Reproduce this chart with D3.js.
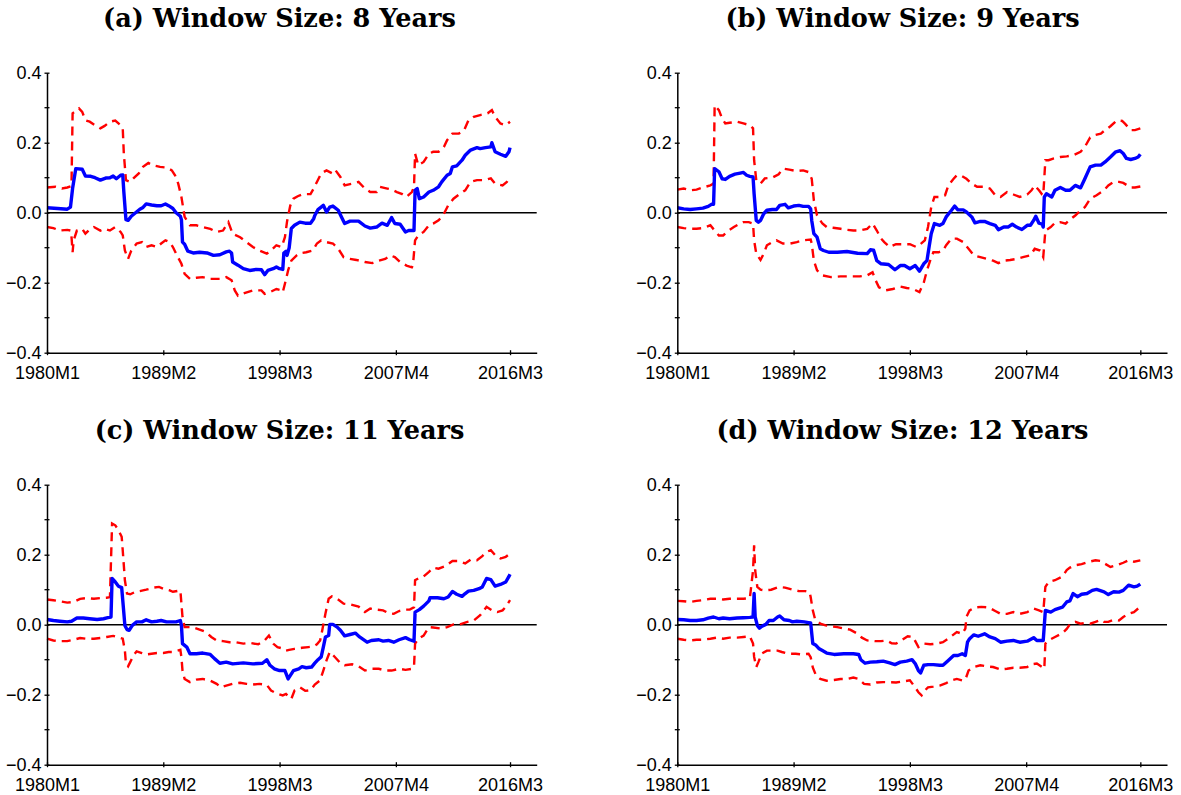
<!DOCTYPE html>
<html>
<head>
<meta charset="utf-8">
<script src="https://cdn.jsdelivr.net/npm/d3@7"></script>
<style>
  html, body { margin: 0; padding: 0; background: #ffffff; }
  svg { display: block; }
</style>
</head>
<body>
<svg id="chart" width="1181" height="795"></svg>
<script>
// ---------- data (x = months since 1980M1, y = estimate) ----------
const tickMonths = [0, 109, 218, 327, 434];
const tickLabels = ["1980M1", "1989M2", "1998M3", "2007M4", "2016M3"];
const yMajorTicks = [-0.4, -0.2, 0.0, 0.2, 0.4];
const yMinorTicks = [-0.3, -0.1, 0.1, 0.3];
const panelTitles = ["(a) Window Size: 8 Years", "(b) Window Size: 9 Years",
                     "(c) Window Size: 11 Years", "(d) Window Size: 12 Years"];

const estA = [[0,0.014],[10,0.012],[19,0.010],[22,0.016],[24,0.070],[27,0.126],[33,0.124],[36,0.105],[41,0.104],[45,0.100],[50,0.093],[55,0.099],[59,0.100],[62,0.105],[65,0.097],[69,0.107],[71,0.108],[72,0.060],[74,-0.020],[76,-0.022],[79,-0.010],[83,0.000],[87,0.010],[90,0.015],[93,0.025],[98,0.022],[103,0.020],[107,0.020],[111,0.025],[114,0.020],[118,0.012],[121,0.000],[125,-0.010],[126,-0.020],[127,-0.084],[129,-0.090],[132,-0.110],[137,-0.115],[143,-0.113],[150,-0.115],[156,-0.122],[162,-0.120],[168,-0.112],[171,-0.110],[173,-0.115],[174,-0.141],[179,-0.150],[184,-0.160],[190,-0.165],[196,-0.162],[201,-0.163],[204,-0.177],[207,-0.165],[212,-0.160],[215,-0.155],[218,-0.160],[221,-0.162],[222,-0.115],[224,-0.110],[225,-0.122],[227,-0.100],[229,-0.045],[232,-0.036],[237,-0.027],[242,-0.030],[247,-0.030],[250,-0.017],[251,-0.008],[254,0.009],[259,0.021],[262,0.002],[265,0.016],[268,0.019],[273,0.007],[276,-0.012],[279,-0.031],[284,-0.024],[292,-0.024],[298,-0.038],[303,-0.044],[309,-0.041],[314,-0.030],[319,-0.036],[323,-0.014],[326,-0.031],[331,-0.033],[336,-0.055],[339,-0.051],[344,-0.051],[345,0.064],[347,0.069],[349,0.040],[353,0.045],[358,0.059],[362,0.064],[367,0.074],[370,0.088],[375,0.107],[378,0.112],[380,0.131],[384,0.134],[389,0.150],[392,0.164],[397,0.179],[403,0.186],[406,0.183],[411,0.186],[416,0.188],[417,0.200],[420,0.174],[425,0.167],[430,0.161],[433,0.174],[434,0.186]];
const upperA = [[0,0.072],[8,0.074],[14,0.069],[19,0.072],[22,0.075],[23,0.088],[24,0.284],[26,0.288],[30,0.298],[33,0.288],[36,0.264],[40,0.260],[45,0.250],[50,0.241],[54,0.248],[59,0.260],[64,0.263],[69,0.250],[71,0.241],[72,0.169],[74,0.093],[78,0.088],[81,0.098],[86,0.112],[90,0.131],[95,0.142],[100,0.135],[106,0.131],[112,0.129],[117,0.121],[120,0.107],[123,0.083],[126,0.045],[129,-0.012],[134,-0.036],[140,-0.036],[146,-0.041],[153,-0.046],[159,-0.055],[165,-0.051],[170,-0.027],[174,-0.060],[181,-0.070],[187,-0.084],[193,-0.098],[199,-0.108],[206,-0.117],[210,-0.108],[215,-0.093],[220,-0.098],[223,-0.070],[225,-0.025],[228,0.020],[231,0.040],[235,0.047],[240,0.053],[247,0.053],[250,0.069],[253,0.088],[257,0.112],[262,0.121],[267,0.113],[270,0.123],[275,0.102],[279,0.078],[286,0.083],[292,0.088],[298,0.069],[303,0.059],[309,0.059],[312,0.074],[319,0.069],[323,0.066],[328,0.059],[333,0.053],[337,0.045],[342,0.059],[344,0.074],[345,0.169],[348,0.136],[353,0.145],[358,0.169],[362,0.174],[367,0.174],[372,0.188],[375,0.207],[380,0.226],[386,0.226],[391,0.236],[395,0.264],[400,0.274],[406,0.279],[413,0.284],[417,0.293],[420,0.274],[425,0.255],[430,0.250],[434,0.260]];
const lowerA = [[0,-0.041],[6,-0.044],[12,-0.051],[19,-0.049],[22,-0.051],[23,-0.070],[24,-0.113],[25,-0.079],[28,-0.051],[33,-0.046],[36,-0.060],[39,-0.051],[44,-0.041],[50,-0.051],[54,-0.046],[59,-0.051],[64,-0.041],[69,-0.055],[71,-0.065],[73,-0.108],[76,-0.132],[79,-0.108],[84,-0.088],[89,-0.084],[93,-0.098],[98,-0.093],[103,-0.098],[107,-0.088],[111,-0.079],[115,-0.084],[118,-0.098],[121,-0.117],[126,-0.146],[129,-0.175],[134,-0.189],[140,-0.186],[146,-0.184],[153,-0.189],[162,-0.189],[168,-0.184],[173,-0.193],[176,-0.222],[179,-0.237],[185,-0.230],[193,-0.222],[201,-0.222],[204,-0.232],[209,-0.227],[215,-0.218],[220,-0.222],[221,-0.227],[223,-0.203],[226,-0.165],[229,-0.137],[234,-0.122],[237,-0.116],[243,-0.113],[249,-0.108],[253,-0.088],[257,-0.079],[262,-0.084],[268,-0.088],[273,-0.103],[278,-0.127],[284,-0.132],[290,-0.135],[298,-0.141],[305,-0.144],[311,-0.137],[317,-0.132],[322,-0.122],[326,-0.127],[331,-0.141],[337,-0.151],[342,-0.156],[343,-0.150],[345,-0.079],[348,-0.065],[353,-0.055],[358,-0.036],[362,-0.031],[367,-0.022],[372,-0.003],[376,0.021],[381,0.040],[387,0.054],[392,0.064],[397,0.088],[403,0.093],[410,0.093],[416,0.098],[420,0.083],[427,0.078],[431,0.088],[434,0.102]];

const estB = [[0,0.014],[6,0.011],[12,0.009],[18,0.011],[24,0.013],[29,0.018],[32,0.024],[34,0.024],[35,0.126],[39,0.117],[42,0.097],[45,0.095],[49,0.104],[54,0.110],[59,0.113],[62,0.115],[65,0.107],[68,0.104],[71,0.102],[72,0.054],[74,-0.022],[76,-0.027],[78,-0.022],[81,-0.003],[84,0.007],[89,0.009],[93,0.009],[96,0.021],[101,0.024],[104,0.014],[109,0.019],[114,0.021],[118,0.018],[123,0.018],[125,0.011],[126,-0.022],[128,-0.060],[131,-0.070],[134,-0.103],[137,-0.108],[142,-0.113],[150,-0.113],[159,-0.111],[169,-0.116],[178,-0.117],[181,-0.106],[184,-0.107],[187,-0.137],[191,-0.146],[198,-0.148],[204,-0.163],[209,-0.151],[213,-0.151],[218,-0.160],[223,-0.151],[227,-0.167],[231,-0.146],[234,-0.137],[236,-0.098],[238,-0.060],[241,-0.031],[246,-0.036],[249,-0.031],[252,-0.012],[257,0.007],[260,0.019],[263,0.008],[268,0.008],[271,0.002],[276,-0.012],[279,-0.029],[284,-0.025],[288,-0.025],[293,-0.031],[298,-0.036],[301,-0.049],[306,-0.041],[310,-0.041],[314,-0.033],[318,-0.041],[323,-0.048],[328,-0.036],[331,-0.036],[334,-0.022],[336,-0.010],[339,-0.030],[342,-0.033],[343,-0.041],[344,0.045],[346,0.054],[351,0.045],[354,0.064],[359,0.072],[364,0.064],[368,0.064],[373,0.078],[378,0.071],[382,0.097],[387,0.131],[392,0.136],[397,0.136],[401,0.145],[406,0.159],[411,0.174],[415,0.177],[418,0.169],[421,0.155],[425,0.152],[429,0.155],[432,0.159],[434,0.167]];
const upperB = [[0,0.066],[6,0.069],[12,0.064],[18,0.066],[24,0.072],[31,0.078],[34,0.083],[35,0.307],[39,0.293],[42,0.269],[45,0.255],[49,0.257],[56,0.260],[62,0.255],[68,0.250],[71,0.241],[72,0.150],[74,0.093],[78,0.083],[82,0.098],[89,0.100],[95,0.110],[99,0.126],[105,0.123],[112,0.119],[118,0.121],[123,0.116],[126,0.097],[128,0.035],[131,-0.008],[136,-0.031],[140,-0.041],[146,-0.043],[153,-0.046],[159,-0.049],[165,-0.051],[171,-0.051],[178,-0.046],[183,-0.031],[187,-0.051],[191,-0.074],[194,-0.084],[199,-0.098],[205,-0.090],[212,-0.090],[218,-0.090],[224,-0.098],[229,-0.087],[232,-0.079],[235,-0.041],[238,0.016],[241,0.045],[246,0.045],[251,0.050],[254,0.078],[259,0.097],[262,0.107],[267,0.104],[271,0.097],[276,0.083],[281,0.074],[287,0.074],[293,0.069],[298,0.050],[303,0.045],[309,0.059],[315,0.052],[321,0.045],[328,0.052],[332,0.064],[335,0.078],[339,0.064],[342,0.052],[343,0.050],[345,0.150],[348,0.150],[353,0.155],[359,0.159],[365,0.161],[371,0.164],[378,0.174],[382,0.188],[387,0.215],[392,0.222],[397,0.226],[401,0.236],[406,0.247],[412,0.264],[417,0.262],[420,0.253],[425,0.236],[429,0.236],[434,0.241]];
const lowerB = [[0,-0.041],[6,-0.044],[12,-0.046],[18,-0.046],[24,-0.044],[31,-0.036],[35,-0.051],[39,-0.065],[43,-0.065],[48,-0.051],[53,-0.041],[57,-0.034],[62,-0.027],[67,-0.027],[71,-0.031],[72,-0.079],[74,-0.117],[78,-0.135],[81,-0.117],[84,-0.093],[89,-0.084],[93,-0.079],[99,-0.088],[106,-0.088],[112,-0.084],[118,-0.079],[125,-0.077],[126,-0.088],[128,-0.137],[131,-0.165],[136,-0.179],[144,-0.184],[153,-0.182],[162,-0.182],[171,-0.182],[178,-0.179],[183,-0.170],[186,-0.194],[189,-0.213],[195,-0.222],[202,-0.218],[209,-0.211],[215,-0.215],[221,-0.218],[227,-0.227],[231,-0.200],[234,-0.165],[237,-0.137],[240,-0.113],[245,-0.113],[249,-0.108],[252,-0.093],[257,-0.074],[262,-0.074],[268,-0.084],[273,-0.103],[278,-0.122],[284,-0.127],[290,-0.132],[296,-0.137],[301,-0.144],[306,-0.137],[312,-0.135],[318,-0.132],[324,-0.127],[331,-0.122],[335,-0.103],[340,-0.108],[343,-0.127],[345,-0.051],[350,-0.041],[354,-0.029],[359,-0.027],[364,-0.031],[368,-0.020],[373,-0.008],[378,0.007],[382,0.016],[387,0.040],[393,0.050],[400,0.064],[404,0.078],[409,0.088],[414,0.088],[418,0.085],[425,0.072],[429,0.072],[434,0.075]];

const estC = [[0,0.015],[6,0.012],[12,0.010],[19,0.008],[23,0.010],[28,0.019],[34,0.019],[40,0.017],[47,0.015],[53,0.017],[57,0.020],[60,0.022],[61,0.132],[64,0.122],[67,0.110],[70,0.106],[71,0.070],[73,-0.002],[75,-0.014],[77,-0.016],[80,-0.002],[84,0.008],[89,0.008],[93,0.014],[98,0.008],[103,0.010],[107,0.012],[112,0.008],[117,0.008],[121,0.008],[125,0.012],[126,-0.002],[127,-0.054],[131,-0.064],[134,-0.083],[140,-0.083],[146,-0.081],[153,-0.085],[157,-0.097],[162,-0.110],[168,-0.107],[174,-0.112],[184,-0.109],[193,-0.112],[202,-0.110],[206,-0.100],[209,-0.116],[213,-0.126],[218,-0.131],[223,-0.131],[226,-0.155],[231,-0.131],[236,-0.126],[239,-0.120],[243,-0.123],[248,-0.121],[251,-0.110],[254,-0.100],[257,-0.092],[259,-0.064],[261,-0.035],[264,-0.031],[265,0.001],[268,0.001],[272,-0.007],[275,-0.016],[279,-0.032],[284,-0.028],[289,-0.024],[293,-0.035],[300,-0.050],[304,-0.045],[311,-0.043],[315,-0.047],[320,-0.045],[325,-0.050],[330,-0.043],[336,-0.037],[340,-0.043],[344,-0.047],[345,0.036],[349,0.043],[353,0.053],[358,0.068],[359,0.077],[366,0.077],[372,0.074],[376,0.079],[380,0.095],[384,0.087],[389,0.081],[392,0.089],[395,0.096],[400,0.098],[405,0.103],[408,0.108],[412,0.132],[416,0.129],[420,0.110],[425,0.115],[430,0.122],[433,0.138],[434,0.144]];
const upperC = [[0,0.072],[6,0.070],[12,0.067],[19,0.063],[25,0.065],[31,0.074],[37,0.076],[44,0.074],[50,0.076],[56,0.077],[59,0.079],[61,0.289],[64,0.284],[67,0.270],[70,0.251],[71,0.212],[73,0.127],[75,0.089],[78,0.087],[83,0.094],[87,0.096],[93,0.100],[100,0.106],[105,0.108],[109,0.103],[115,0.098],[118,0.094],[125,0.098],[126,0.060],[127,0.022],[129,-0.007],[136,-0.007],[143,-0.014],[149,-0.021],[154,-0.035],[159,-0.045],[165,-0.047],[171,-0.050],[177,-0.050],[184,-0.054],[190,-0.052],[198,-0.056],[204,-0.045],[208,-0.031],[212,-0.054],[216,-0.064],[221,-0.068],[224,-0.074],[227,-0.072],[232,-0.069],[239,-0.066],[245,-0.064],[250,-0.062],[253,-0.056],[256,-0.045],[258,-0.016],[261,0.032],[264,0.074],[267,0.081],[272,0.074],[278,0.060],[284,0.058],[292,0.052],[298,0.036],[303,0.046],[309,0.043],[315,0.041],[320,0.033],[325,0.031],[330,0.039],[336,0.043],[340,0.043],[344,0.050],[345,0.127],[348,0.132],[353,0.138],[358,0.151],[362,0.163],[367,0.160],[373,0.167],[380,0.182],[386,0.182],[392,0.175],[397,0.186],[403,0.184],[408,0.196],[412,0.208],[416,0.213],[420,0.199],[425,0.189],[430,0.194],[434,0.203]];
const lowerC = [[0,-0.040],[6,-0.045],[12,-0.047],[19,-0.047],[25,-0.043],[31,-0.038],[37,-0.040],[44,-0.040],[50,-0.038],[56,-0.035],[62,-0.032],[68,-0.037],[71,-0.040],[73,-0.074],[74,-0.112],[76,-0.119],[78,-0.107],[81,-0.088],[84,-0.076],[89,-0.081],[93,-0.085],[98,-0.083],[103,-0.081],[109,-0.081],[114,-0.078],[118,-0.078],[125,-0.072],[126,-0.093],[127,-0.131],[129,-0.155],[134,-0.164],[140,-0.157],[146,-0.155],[153,-0.160],[159,-0.169],[163,-0.179],[168,-0.174],[174,-0.169],[181,-0.166],[187,-0.169],[193,-0.171],[199,-0.169],[206,-0.172],[210,-0.188],[215,-0.196],[221,-0.202],[224,-0.198],[229,-0.212],[232,-0.188],[237,-0.179],[242,-0.189],[247,-0.187],[251,-0.171],[256,-0.159],[259,-0.131],[262,-0.102],[265,-0.078],[270,-0.093],[275,-0.110],[279,-0.116],[286,-0.113],[292,-0.119],[298,-0.131],[305,-0.126],[311,-0.126],[317,-0.131],[323,-0.131],[330,-0.126],[336,-0.129],[342,-0.126],[344,-0.121],[345,-0.054],[348,-0.040],[353,-0.031],[358,-0.007],[362,-0.008],[369,-0.011],[375,-0.007],[381,0.001],[387,0.001],[394,0.008],[400,0.012],[406,0.027],[412,0.051],[417,0.041],[422,0.036],[427,0.041],[430,0.051],[434,0.070]];

const estD = [[0,0.015],[6,0.014],[12,0.012],[18,0.012],[24,0.014],[29,0.019],[34,0.022],[39,0.017],[43,0.019],[49,0.017],[56,0.019],[62,0.020],[68,0.021],[71,0.022],[72,0.089],[73,0.022],[75,-0.002],[77,-0.010],[79,-0.005],[83,0.001],[86,0.012],[90,0.012],[94,0.022],[96,0.025],[100,0.014],[105,0.012],[108,0.008],[112,0.010],[119,0.008],[123,0.006],[125,0.005],[127,-0.054],[130,-0.059],[133,-0.069],[136,-0.074],[140,-0.081],[147,-0.085],[156,-0.083],[165,-0.083],[170,-0.085],[172,-0.100],[176,-0.110],[181,-0.107],[187,-0.106],[193,-0.104],[199,-0.109],[204,-0.114],[209,-0.107],[215,-0.104],[220,-0.100],[223,-0.111],[226,-0.131],[228,-0.138],[231,-0.116],[235,-0.114],[240,-0.114],[246,-0.116],[249,-0.116],[254,-0.102],[259,-0.088],[263,-0.088],[267,-0.083],[270,-0.088],[272,-0.050],[274,-0.040],[278,-0.029],[282,-0.033],[288,-0.026],[293,-0.035],[298,-0.040],[303,-0.050],[309,-0.047],[315,-0.045],[321,-0.050],[328,-0.047],[334,-0.037],[337,-0.045],[343,-0.045],[345,0.041],[350,0.036],[354,0.043],[361,0.050],[365,0.065],[368,0.068],[371,0.089],[375,0.080],[379,0.087],[384,0.089],[389,0.098],[393,0.101],[400,0.094],[404,0.086],[409,0.094],[414,0.093],[418,0.098],[423,0.113],[428,0.108],[431,0.110],[434,0.116]];
const upperD = [[0,0.068],[6,0.067],[12,0.065],[18,0.068],[24,0.070],[31,0.074],[37,0.074],[43,0.072],[49,0.074],[62,0.074],[68,0.076],[71,0.155],[72,0.227],[73,0.155],[75,0.108],[78,0.100],[82,0.098],[88,0.100],[95,0.108],[101,0.106],[108,0.100],[114,0.096],[120,0.096],[124,0.093],[125,0.079],[127,0.041],[129,0.017],[134,0.003],[139,-0.002],[143,-0.004],[150,-0.007],[156,-0.011],[162,-0.014],[169,-0.026],[173,-0.037],[178,-0.045],[185,-0.047],[191,-0.047],[196,-0.045],[201,-0.053],[205,-0.054],[210,-0.045],[216,-0.033],[221,-0.035],[226,-0.064],[231,-0.054],[237,-0.056],[243,-0.054],[249,-0.050],[256,-0.035],[262,-0.021],[267,-0.026],[270,-0.011],[271,0.022],[274,0.041],[279,0.049],[285,0.051],[292,0.049],[298,0.039],[303,0.031],[309,0.031],[315,0.036],[321,0.031],[328,0.036],[334,0.046],[339,0.041],[343,0.036],[345,0.108],[348,0.122],[354,0.127],[361,0.138],[365,0.156],[368,0.163],[373,0.170],[379,0.173],[386,0.180],[392,0.184],[397,0.182],[401,0.174],[406,0.165],[412,0.170],[418,0.177],[423,0.184],[428,0.180],[434,0.184]];
const lowerD = [[0,-0.040],[6,-0.043],[12,-0.045],[18,-0.043],[24,-0.043],[31,-0.040],[37,-0.037],[43,-0.040],[49,-0.037],[56,-0.037],[62,-0.035],[68,-0.033],[71,-0.054],[72,-0.092],[74,-0.121],[76,-0.107],[79,-0.083],[84,-0.074],[89,-0.074],[94,-0.074],[98,-0.078],[104,-0.083],[111,-0.083],[117,-0.085],[123,-0.083],[125,-0.093],[127,-0.122],[130,-0.145],[134,-0.155],[140,-0.160],[147,-0.158],[153,-0.155],[159,-0.155],[165,-0.151],[170,-0.155],[175,-0.169],[181,-0.171],[187,-0.165],[193,-0.164],[205,-0.165],[218,-0.159],[223,-0.179],[226,-0.193],[229,-0.202],[232,-0.188],[235,-0.179],[240,-0.177],[246,-0.174],[252,-0.167],[257,-0.159],[262,-0.155],[267,-0.159],[270,-0.157],[273,-0.131],[278,-0.121],[284,-0.116],[290,-0.119],[296,-0.121],[303,-0.128],[309,-0.126],[315,-0.123],[321,-0.123],[328,-0.121],[332,-0.113],[337,-0.111],[342,-0.121],[344,-0.126],[345,-0.054],[348,-0.045],[354,-0.035],[361,-0.024],[365,-0.012],[368,0.001],[373,0.008],[378,0.003],[382,0.005],[387,0.003],[392,0.008],[397,0.014],[400,0.008],[404,0.008],[409,0.014],[414,0.012],[418,0.022],[423,0.031],[428,0.036],[433,0.049]];

const panelSeries = [
  {est: estA, upper: upperA, lower: lowerA},
  {est: estB, upper: upperB, lower: lowerB},
  {est: estC, upper: upperC, lower: lowerC},
  {est: estD, upper: upperD, lower: lowerD}
];

// ---------- layout ----------
const svg = d3.select("#chart");
svg.append("rect").attr("width", 1181).attr("height", 795).attr("fill", "#fff");

const panelW = 489.7, panelH = 280;
const origins = [
  {x: 47, y: 72.7, tx: 279.5, ty: 26.7},
  {x: 677.3, y: 72.7, tx: 902.5, ty: 26.7},
  {x: 47, y: 484.7, tx: 279.5, ty: 438.7},
  {x: 677.3, y: 484.7, tx: 902.5, ty: 438.7}
];

const labelFont = "'Liberation Sans', Arial, Helvetica, sans-serif";
const titleFont = "'DejaVu Serif', 'Liberation Serif', serif";

// measure title to fit width of ~353 px for panel (a)
const probe = svg.append("text").attr("font-family", titleFont).attr("font-weight", "bold")
  .attr("font-size", 20).text(panelTitles[0]);
const probeW = probe.node().getComputedTextLength();
probe.remove();
const titleSize = 20 * 353 / probeW;

panelSeries.forEach((s, i) => {
  const o = origins[i];
  const g = svg.append("g").attr("transform", `translate(${o.x},${o.y})`);
  const x = d3.scaleLinear().domain([0, 459]).range([0, panelW]);
  const y = d3.scaleLinear().domain([-0.4, 0.4]).range([panelH, 0]);

  // title
  svg.append("text")
    .attr("x", o.tx).attr("y", o.ty)
    .attr("text-anchor", "middle")
    .attr("font-family", titleFont).attr("font-weight", "bold")
    .attr("font-size", titleSize)
    .attr("fill", "#000")
    .text(panelTitles[i]);

  // zero line
  g.append("line")
    .attr("x1", x(0)).attr("x2", x(459))
    .attr("y1", y(0)).attr("y2", y(0))
    .attr("stroke", "#000").attr("stroke-width", 1.5);

  const line = d3.line().x(d => x(d[0])).y(d => y(d[1]));

  g.append("path").datum(s.upper).attr("d", line)
    .attr("fill", "none").attr("stroke", "#ff0000").attr("stroke-width", 2.4)
    .attr("stroke-dasharray", "9,6");
  g.append("path").datum(s.lower).attr("d", line)
    .attr("fill", "none").attr("stroke", "#ff0000").attr("stroke-width", 2.4)
    .attr("stroke-dasharray", "9,6");
  g.append("path").datum(s.est).attr("d", line)
    .attr("fill", "none").attr("stroke", "#0000ff").attr("stroke-width", 3.4)
    .attr("stroke-linejoin", "round");

  // y axis
  const yAxis = d3.axisLeft(y).tickValues(yMajorTicks).tickFormat(d3.format(".1f"))
    .tickSizeInner(2.5).tickSizeOuter(0).tickPadding(3);
  const ya = g.append("g").call(yAxis);
  ya.select(".domain").attr("stroke", "#000").attr("stroke-width", 1.5);
  ya.selectAll(".tick line").attr("x2", 2.5).attr("x1", -2.5).attr("stroke-width", 1.3);
  ya.selectAll(".tick text").attr("font-family", labelFont).attr("font-size", 18).attr("fill", "#000");
  yMinorTicks.forEach(v => {
    g.append("line").attr("x1", -2.5).attr("x2", 2.5).attr("y1", y(v)).attr("y2", y(v))
      .attr("stroke", "#000").attr("stroke-width", 1.3);
  });

  // x axis
  const xAxis = d3.axisBottom(x).tickValues(tickMonths)
    .tickFormat((d, k) => tickLabels[k]).tickSizeInner(2.5).tickSizeOuter(0).tickPadding(11);
  const xa = g.append("g").attr("transform", `translate(0,${panelH})`).call(xAxis);
  xa.select(".domain").attr("stroke", "#000").attr("stroke-width", 1.5);
  xa.selectAll(".tick line").attr("y1", -2.5).attr("y2", 2.5).attr("stroke-width", 1.3);
  xa.selectAll(".tick text").attr("font-family", labelFont).attr("font-size", 18).attr("fill", "#000");
});
</script>
</body>
</html>
